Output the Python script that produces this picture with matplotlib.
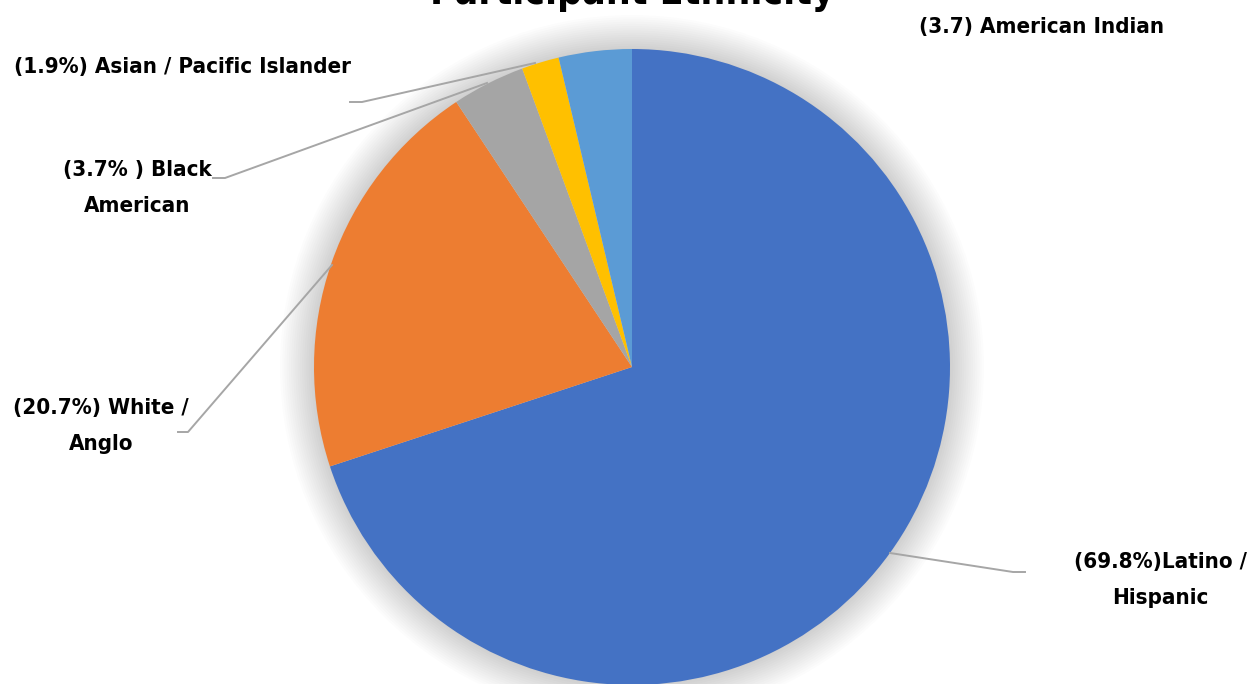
import matplotlib.pyplot as plt
from matplotlib.patches import Circle

# slice data, clockwise from 12 o'clock
groups = ['Latino / Hispanic', 'White / Anglo', 'Black American',
          'Asian / Pacific Islander', 'American Indian']
shares = [69.8, 20.7, 3.7, 1.9, 3.7]
colors = ['#4472C4', '#ED7D31', '#A5A5A5', '#FFC000', '#5B9BD5']
label_text = ['(69.8%)Latino /\nHispanic', '(20.7%) White /\nAnglo',
              '(3.7% ) Black\nAmerican', '(1.9%) Asian / Pacific Islander',
              '(3.7) American Indian']

W, H = 1258, 684
plt.rcParams['font.family'] = ['DejaVu Sans']

fig = plt.figure(figsize=(W / 100, H / 100), dpi=100)
ax = fig.add_axes([0, 0, 1, 1])

cx, cy, r = 632, H - 367, 318

# soft shadow around the pie
for i in range(16):
    ax.add_patch(Circle((cx, cy), r + 1 + i * 2.2, color='#000000',
                        alpha=0.010, lw=0, zorder=0))

wedges, _ = ax.pie(shares, colors=colors, startangle=90, counterclock=False,
                   center=(cx, cy), radius=r, frame=True,
                   wedgeprops=dict(linewidth=0))
ax.set_xlim(0, W)
ax.set_ylim(0, H)
ax.set_aspect('equal')
ax.axis('off')

# leader lines in image pixels: slice end, elbow, end
leaders = {
    0: [(890, 553), (1013, 572), (1025, 572)],
    1: [(332, 265), (188, 432), (178, 432)],
    2: [(487, 83), (225, 178), (213, 178)],
    3: [(535, 63), (362, 102), (350, 102)],
}
for k, pts in leaders.items():
    xs = [p[0] for p in pts]
    ys = [H - p[1] for p in pts]
    ax.plot(xs, ys, color='#A6A6A6', lw=1.4, zorder=3)

lab_kw = dict(fontsize=16, fontweight='bold', fontstretch='condensed',
              color='#000000', linespacing=1.95)
ax.text(1160, H - 580, label_text[0], ha='center', va='center', multialignment='center', **lab_kw)
ax.text(101, H - 426, label_text[1], ha='center', va='center', multialignment='center', **lab_kw)
ax.text(137, H - 188, label_text[2], ha='center', va='center', multialignment='center', **lab_kw)
ax.text(182, H - 67, label_text[3], ha='center', va='center', **lab_kw)
ax.text(1042, H - 27, label_text[4], ha='center', va='center', **lab_kw)

ax.text(632, H - 4, 'Participant Ethnicity', ha='center', va='baseline',
        fontsize=28, fontweight='bold', fontstretch='condensed', color='#000000')

fig.savefig('out.png', dpi=100)
plt.close()
